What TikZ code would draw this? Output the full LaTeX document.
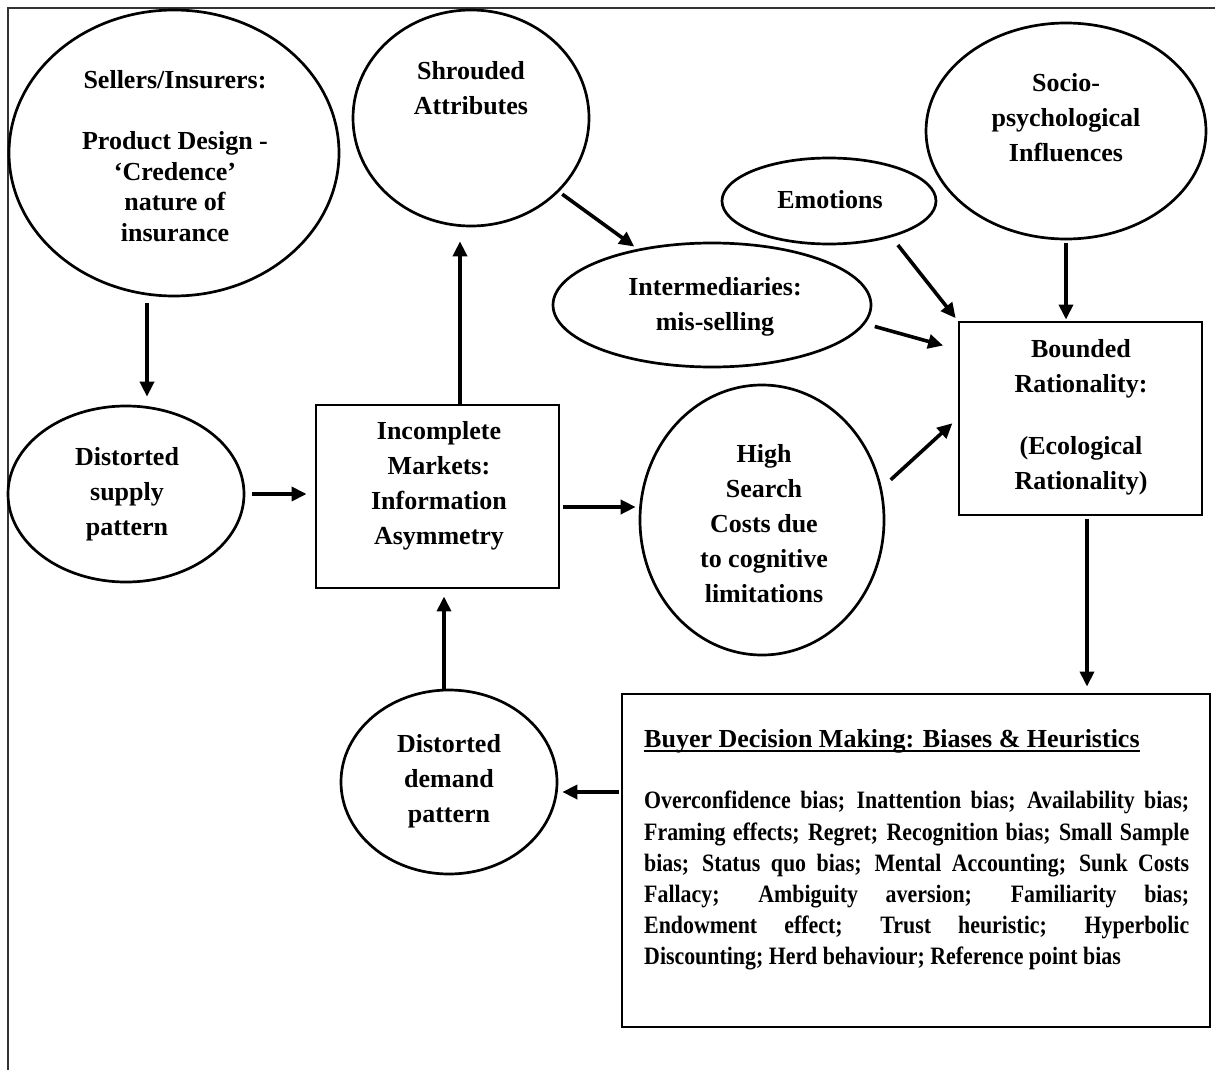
\documentclass[tikz,border=0pt]{standalone}
\usepackage{fontspec}
\setmainfont{Liberation Serif}
\newfontfamily\boxfont{Liberation Serif}[FakeStretch=0.875]
\usetikzlibrary{arrows.meta,shapes.geometric,calc}

\begin{document}
\begin{tikzpicture}[x=1pt,y=-1pt,
  oval/.style={draw, ellipse, line width=2.7pt, inner sep=0pt},
  box/.style={draw, rectangle, line width=2.9pt, inner sep=0pt},
  lbl/.style={align=center, inner sep=0pt, font=\fontsize{26}{35}\selectfont\bfseries},
  arr/.style={line width=3.6pt, -{Triangle[length=15pt,width=14pt]}},
  frameline/.style={line width=1.4pt, draw=black!80}]
\useasboundingbox (0,0) rectangle (1215,1070);

% frame (top and left edges)
\coordinate (fbl) at (8,1070);
\coordinate (ftl) at (8,8);
\coordinate (ftr) at (1215,8);
\draw[frameline] (fbl) -- (ftl) -- (ftr);

% shapes
\node[oval, minimum width=330pt, minimum height=286pt] (sellers) at (174,153) {};
\node[oval, minimum width=236pt, minimum height=216pt] (shrouded) at (471,118) {};
\node[oval, minimum width=280pt, minimum height=216pt] (socio) at (1066,131) {};
\node[oval, minimum width=214pt, minimum height=86pt] (emotions) at (829,201) {};
\node[oval, minimum width=318pt, minimum height=124pt] (inter) at (712,305) {};
\node[oval, minimum width=244pt, minimum height=270pt] (hs) at (762,520) {};
\node[oval, minimum width=236pt, minimum height=176pt] (supply) at (126,494) {};
\node[oval, minimum width=216pt, minimum height=184pt] (demand) at (449,782) {};
\node[box, minimum width=243pt, minimum height=183pt] (incomplete) at (437.5,496.5) {};
\node[box, minimum width=243pt, minimum height=193pt] (bounded) at (1080.5,418.5) {};
\node[box, minimum width=588pt, minimum height=333pt] (buyer) at (916,860.5) {};

% texts
\node[lbl, font=\fontsize{26}{30.5}\selectfont\bfseries] (sellerst) at (175,156)
  {Sellers/Insurers:\\[30.5pt]Product Design -\\‘Credence’\\nature of\\insurance};
\node[lbl] (shroudedt) at (471,88) {Shrouded\\Attributes};
\node[lbl] (sociot) at (1066,118) {Socio-\\psychological\\Influences};
\node[lbl] (emotionst) at (830,200) {Emotions};
\node[lbl] (intert) at (715,307) {Intermediaries:\\mis-selling};
\node[lbl] (hst) at (764,524) {High\\Search\\Costs due\\to cognitive\\limitations};
\node[lbl] (supplyt) at (127,494) {Distorted\\supply\\pattern};
\node[lbl] (demandt) at (449,781.5) {Distorted\\demand\\pattern};
\node[lbl] (incompletet) at (439,486) {Incomplete\\Markets:\\Information\\Asymmetry};
\node[lbl] (boundedt) at (1081,417) {Bounded\\Rationality:\\[27pt](Ecological\\Rationality)};

\node[anchor=base west, inner sep=0pt, font=\fontsize{26}{30}\selectfont\bfseries] (title) at (644,747)
  {Buyer Decision Making: Biases \& Heuristics};
\draw[line width=1.6pt] ($(title.base west)+(0,4)$) -- ($(title.base east)+(0,4)$);

\node[anchor=north west, inner sep=0pt, text width=545pt, align=justify,
      font=\boxfont\fontsize{25}{31.2}\selectfont\bfseries] (body) at (644,791)
  {\tolerance=9999\hbadness=10000\noindent
   Overconfidence bias; Inattention bias; Availability bias;\linebreak
   Framing effects; Regret; Recognition bias; Small Sample\linebreak
   bias; Status quo bias; Mental Accounting; Sunk Costs\linebreak
   Fallacy; Ambiguity aversion; Familiarity bias;\linebreak
   Endowment effect; Trust heuristic; Hyperbolic\linebreak
   Discounting; Herd behaviour; Reference point bias};

% connectors
\coordinate (a1) at ($(sellers.south)+(-27,0)$);
\draw[arr, shorten <=6pt, shorten >=8pt] (a1) -- (a1 |- supply.north);

\draw[arr, shorten <=7pt, shorten >=8pt] (supply.east) -- (supply.east -| incomplete.west);

\coordinate (a3) at ($(incomplete.north)+(22.5,0)$);
\draw[arr, shorten >=14pt] (a3) -- (a3 |- shrouded.south);

\draw[arr, shorten <=4pt, shorten >=4pt] (shrouded.-40) -- (inter.143);

\draw[arr, shorten <=10pt, shorten >=3pt] (emotions.-30) -- (bounded.north west);

\draw[arr, shorten <=3pt, shorten >=1pt] (socio.south) -- (socio.south |- bounded.north);

\coordinate (a7) at ($(bounded.north west)+(0,29)$);
\draw[arr, shorten <=10pt, shorten >=15pt] (inter.-7) -- (a7);

\draw[arr, shorten <=12pt, shorten >=7pt] (hs.15) -- (bounded.west);

\coordinate (a9) at ($(incomplete.east)+(0,10.5)$);
\draw[arr, shorten <=3pt, shorten >=3pt] (a9) -- (a9 -| hs.west);

\coordinate (a10) at ($(bounded.south)+(6.5,0)$);
\draw[arr, shorten <=3pt, shorten >=6pt] (a10) -- (a10 |- buyer.north);

\coordinate (a11) at ($(buyer.west)+(0,-68.5)$);
\draw[arr, shorten <=2pt, shorten >=4pt] (a11) -- (a11 -| demand.east);

\coordinate (a12) at ($(demand.north)+(-5,0)$);
\draw[arr, shorten >=7pt] (a12) -- (a12 |- incomplete.south);
\end{tikzpicture}
\end{document}
